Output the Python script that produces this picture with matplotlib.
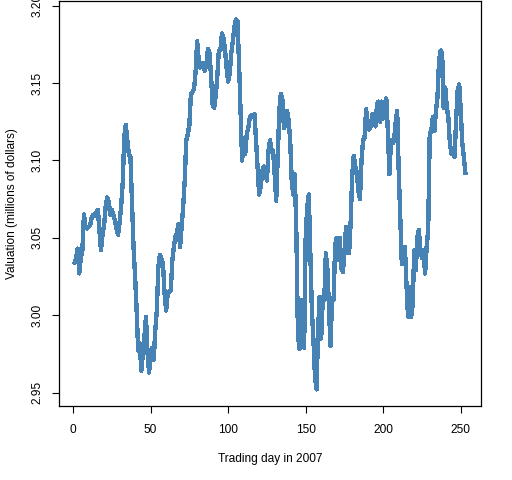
import numpy as np
import matplotlib
matplotlib.use("Agg")
import matplotlib.pyplot as plt

plt.rcParams['font.family'] = ['Liberation Sans', 'DejaVu Sans']

# portfolio valuation (millions of dollars), one value per trading day of 2007
val_q1 = [3.034, 3.037, 3.043, 3.027, 3.037, 3.042, 3.065, 3.057, 3.056, 3.057,
          3.058, 3.063, 3.065, 3.064, 3.066, 3.068, 3.055, 3.042, 3.052, 3.058,
          3.070, 3.076, 3.073, 3.065, 3.068, 3.065, 3.061, 3.056, 3.052, 3.060,
          3.070, 3.085, 3.115, 3.123, 3.113, 3.104, 3.102, 3.072, 3.044, 3.025,
          3.003, 2.977, 2.982, 2.964, 2.975, 2.986, 2.999, 2.976, 2.963]
val_q2 = [2.975, 2.979, 2.971, 2.990, 3.003, 3.031, 3.039, 3.036, 3.033, 3.014,
          3.003, 3.014, 3.015, 3.016, 3.035, 3.044, 3.051, 3.053, 3.059, 3.044,
          3.057, 3.070, 3.087, 3.113, 3.117, 3.123, 3.143, 3.144, 3.146, 3.157,
          3.177, 3.165, 3.160, 3.163, 3.160, 3.158, 3.162, 3.172, 3.169, 3.154,
          3.136, 3.134, 3.142, 3.154, 3.171, 3.171, 3.182, 3.179, 3.171, 3.160]
val_q3 = [3.151, 3.156, 3.169, 3.177, 3.186, 3.191, 3.190, 3.164, 3.132, 3.100,
          3.113, 3.104, 3.117, 3.121, 3.128, 3.129, 3.128, 3.130, 3.113, 3.096,
          3.078, 3.083, 3.093, 3.096, 3.091, 3.087, 3.106, 3.113, 3.107, 3.106,
          3.091, 3.074, 3.104, 3.132, 3.143, 3.139, 3.121, 3.123, 3.132, 3.126,
          3.113, 3.087, 3.078, 3.091, 3.053]
val_q4 = [2.988, 2.978, 3.010, 2.990, 2.979, 3.050, 3.070, 3.078, 3.040, 3.003,
          2.984, 2.960, 2.952, 2.990, 3.012, 2.985, 3.010, 3.010, 3.040, 3.030,
          3.005, 2.980, 3.010, 3.010, 3.045, 3.050, 3.036, 3.050, 3.030, 3.028,
          3.040, 3.057, 3.055, 3.040, 3.060, 3.090, 3.103, 3.096, 3.092, 3.080,
          3.075, 3.100, 3.113, 3.115, 3.133, 3.123, 3.120, 3.122, 3.130, 3.130,
          3.122, 3.136, 3.138, 3.125, 3.138]
val_q5 = [3.127, 3.133, 3.140, 3.119, 3.091, 3.113, 3.111, 3.113, 3.124, 3.132,
          3.093, 3.063, 3.033, 3.037, 3.044, 3.020, 2.999, 3.018, 2.999, 3.007,
          3.042, 3.029, 3.050, 3.055, 3.042, 3.037, 3.042, 3.027, 3.044, 3.055,
          3.117, 3.119, 3.128, 3.119, 3.132, 3.141, 3.164, 3.171, 3.169, 3.134,
          3.147, 3.134, 3.128, 3.111, 3.104, 3.108, 3.102, 3.126, 3.145, 3.149,
          3.132, 3.111, 3.102, 3.092]

valuation = np.array(val_q1 + val_q2 + val_q3 + val_q4 + val_q5)
days = np.arange(1, len(valuation) + 1)

x_ticks = [0, 50, 100, 150, 200, 250]
y_ticks = [2.95, 3.00, 3.05, 3.10, 3.15, 3.20]

fig = plt.figure(figsize=(5.12, 4.8), dpi=100)
ax = fig.add_axes([0.1152, 0.154, 0.8243, 0.843])

ax.plot(days, valuation, color='#4682B4', lw=2.4, solid_joinstyle='round',
        antialiased=False)

# R-style 4% padding on x
xpad = 0.04 * (days.max() - days.min())
ax.set_xlim(days.min() - xpad, days.max() + xpad)
ax.set_ylim(2.9413, 3.2027)

ax.set_xticks(x_ticks)
ax.set_yticks(y_ticks)
ax.set_yticklabels([f'{v:.2f}' for v in y_ticks], rotation=90, va='center')

ax.tick_params(axis='both', direction='out', length=5.2, width=0.8,
               labelsize=8.6, color='black')
ax.tick_params(axis='x', pad=8)
ax.tick_params(axis='y', pad=6)

for s in ax.spines.values():
    s.set_linewidth(0.9)

ax.set_xlabel('Trading day in 2007', fontsize=8.6, labelpad=12)
ax.set_ylabel('Valuation (millions of dollars)', fontsize=8.6, labelpad=10)

fig.savefig('out.png', dpi=100)
